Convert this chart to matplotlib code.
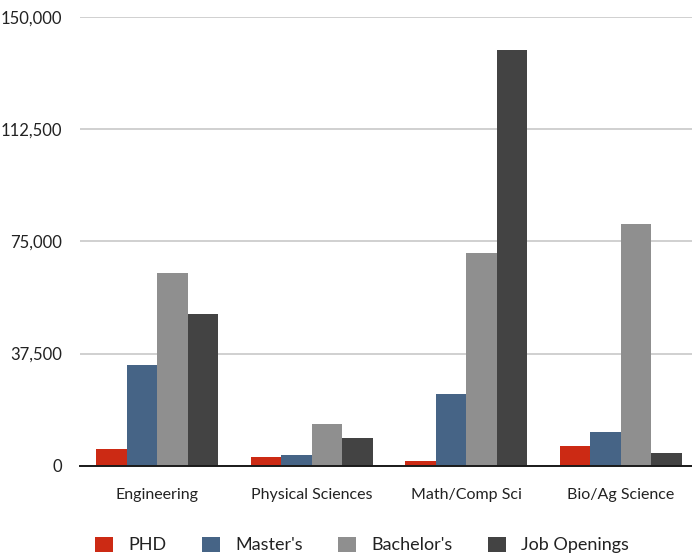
import numpy as np
import matplotlib
matplotlib.use("Agg")
import matplotlib.pyplot as plt

plt.rcParams['font.family'] = ['Lato', 'DejaVu Sans']

# graduates per field vs. job openings
fields = ['Engineering', 'Physical Sciences', 'Math/Comp Sci', 'Bio/Ag Science']
phd = [5500, 3000, 1600, 6700]
masters = [33800, 3500, 24100, 11400]
bachelors = [64300, 14000, 71300, 80700]
job_openings = [50600, 9200, 139200, 4400]

series_names = ['PHD', "Master's", "Bachelor's", 'Job Openings']
series_colors = ['#cc2a14', '#466486', '#8f8f8f', '#434343']
yticks = [0, 37500, 75000, 112500, 150000]

fig = plt.figure(figsize=(6.92, 5.58), dpi=100)
ax = fig.add_axes([80 / 692, 1 - 465.7 / 558, 618 / 692, (465.7 - 17.3) / 558])

x = np.arange(len(fields))
width = 0.197
all_series = [phd, masters, bachelors, job_openings]
for i, (vals, name, col) in enumerate(zip(all_series, series_names, series_colors)):
    ax.bar(x + (i - 1.5) * width, vals, width, color=col, label=name, zorder=3)

ax.set_xlim(-0.5, 3.5)
ax.set_ylim(0, 150000)
ax.set_yticks(yticks)
ax.set_yticklabels([f'{v:,}' for v in yticks])
ax.set_xticks(x)
ax.set_xticklabels(fields)

ax.yaxis.grid(True, color='#c4c4c4', linewidth=1.1, zorder=0)
ax.set_axisbelow(True)
for side in ['top', 'right', 'left']:
    ax.spines[side].set_visible(False)
ax.spines['bottom'].set_color('#1a1a1a')
ax.spines['bottom'].set_linewidth(1.4)
ax.spines['bottom'].set_zorder(4)

ax.tick_params(axis='y', length=0, pad=13, labelsize=12, labelcolor='#222222')
ax.tick_params(axis='x', length=0, pad=16, labelsize=11.5, labelcolor='#222222')

fig.legend(loc='center', bbox_to_anchor=(362 / 692, 1 - 545 / 558), ncol=4,
           frameon=False, fontsize=13, handlelength=1.0, handleheight=0.95,
           handletextpad=0.85, columnspacing=1.95, labelcolor='#222222')

fig.savefig('out.png', dpi=100)
